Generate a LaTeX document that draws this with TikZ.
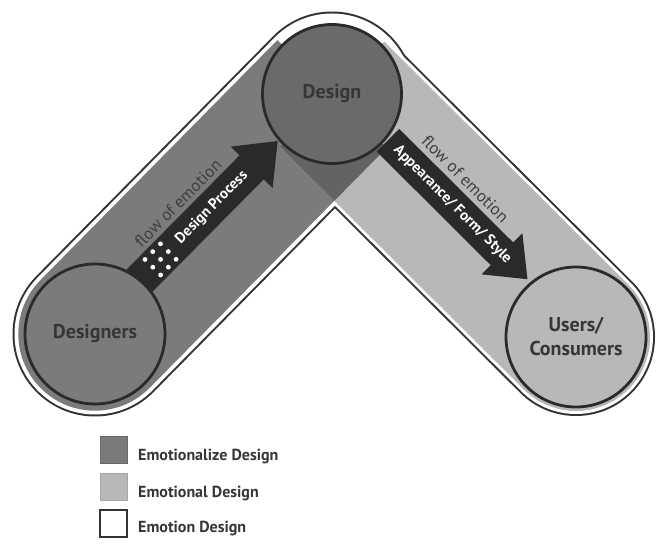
\documentclass[tikz,border=0pt]{standalone}
\usepackage{fontspec}
\setmainfont{PT Sans}
\usetikzlibrary{calc}
\definecolor{bandDark}{HTML}{7B7B7B}
\definecolor{bandLight}{HTML}{B8B8B8}
\definecolor{overlapC}{HTML}{636363}
\definecolor{designC}{HTML}{6A6A6A}
\definecolor{circleLine}{HTML}{2A2A2A}
\definecolor{arrowC}{HTML}{2A2A2A}
\definecolor{textC}{HTML}{363636}
\definecolor{flowC}{HTML}{404040}
\definecolor{outlineC}{HTML}{333333}
\tikzset{
 hub/.style={circle, draw=circleLine, line width=2.8pt, minimum size=139pt, inner sep=0pt, text=textC, font=\bfseries\fontsize{20}{24}\selectfont, align=center},
 flowtxt/.style={text=flowC, font=\fontsize{17}{17}\selectfont, inner sep=0pt},
 arrowtxt/.style={text=white, font=\bfseries\fontsize{15}{15}\selectfont, inner sep=0pt},
 legbox/.style={minimum size=27pt, inner sep=0pt, draw},
 legtxt/.style={anchor=base west, text=textC, font=\bfseries\fontsize{16}{16}\selectfont, inner sep=0pt},
 blockarrow/.style={fill=arrowC},
 whitedot/.style={fill=white}
}
\begin{document}
\begin{tikzpicture}[x=1pt,y=1pt]
\useasboundingbox (0,0) rectangle (660,543);
\coordinate (P1) at (95,209);
\coordinate (P2) at (332,449);
\coordinate (P3) at (576,206);
% outer white capsule with outline
\draw[outlineC, line width=165pt, line cap=round] (P1) -- (P2);
\draw[outlineC, line width=158pt, line cap=round] (P2) -- (P3);
\draw[white, line width=161pt, line cap=round] (P1) -- (P2);
\draw[white, line width=154pt, line cap=round] (P2) -- (P3);
% bands
\draw[bandDark, line width=153.4pt] (P1) -- (P2);
\fill[bandDark] (P1) circle (76.7pt);
\draw[bandLight, line width=148pt] (P2) -- (P3);
\fill[bandLight] (P3) circle (74pt);
\begin{scope}
 \clip ($(P1)!76.7pt!90:(P2)$) -- ($(P2)!76.7pt!-90:(P1)$) -- ($(P2)!76.7pt!90:(P1)$) -- ($(P1)!76.7pt!-90:(P2)$) -- cycle;
 \draw[overlapC, line width=148pt] (P2) -- (P3);
\end{scope}
% arrow 1
\begin{scope}[shift={($(P1)!0.5!(P2)$)}, rotate=45.3]
 \fill[blockarrow] (-115,-11.3) -- (60,-11.3) -- (60,-23.8) -- (97,5.7) -- (60,35.2) -- (60,22.7) -- (-115,22.7) -- cycle;
 \foreach \u in {-80.5,-69.5,-58.5}{
  \foreach \v in {-5.3,5.7,16.7}{
   \fill[whitedot] (\u,\v) circle (2.4pt);
  }
 }
 \node[arrowtxt, rotate=45.3] (dp) at (3.5,5.7) {Design Process};
 \node[flowtxt, rotate=45.3] (f1) at (-17.3,33) {flow of emotion};
\end{scope}
% arrow 2
\begin{scope}[shift={($(P2)!0.5!(P3)$)}, rotate=-44.9]
 \fill[blockarrow] (-100,-9.3) -- (61,-9.3) -- (61,-22.3) -- (97,6.7) -- (61,35.7) -- (61,22.7) -- (-100,22.7) -- cycle;
 \node[arrowtxt, rotate=-44.9] (afs) at (-9,6.7) {Appearance/ Form/ Style};
 \node[flowtxt, rotate=-44.9] (f2) at (-17.7,34) {flow of emotion};
\end{scope}
% hubs
\node[hub, fill=bandDark, minimum size=140pt] (designers) at (P1) {Designers};
\node[hub, fill=designC] (design) at (P2) {Design};
\node[hub, fill=bandLight, minimum size=140pt] (users) at (P3) {Users/\\Consumers};
% legend
\node[legbox, fill=bandDark, draw=bandDark!85!black] (l1) at (113.5,93) {};
\node[legbox, fill=bandLight, draw=bandLight!90!black] (l2) at (113.5,56.5) {};
\node[legbox, fill=white, draw=outlineC, line width=1.2pt] (l3) at (113.5,19.5) {};
\node[legtxt] (t1) at (138,83) {Emotionalize Design};
\node[legtxt] (t2) at (138,46) {Emotional Design};
\node[legtxt] (t3) at (138,11) {Emotion Design};
\end{tikzpicture}
\end{document}
